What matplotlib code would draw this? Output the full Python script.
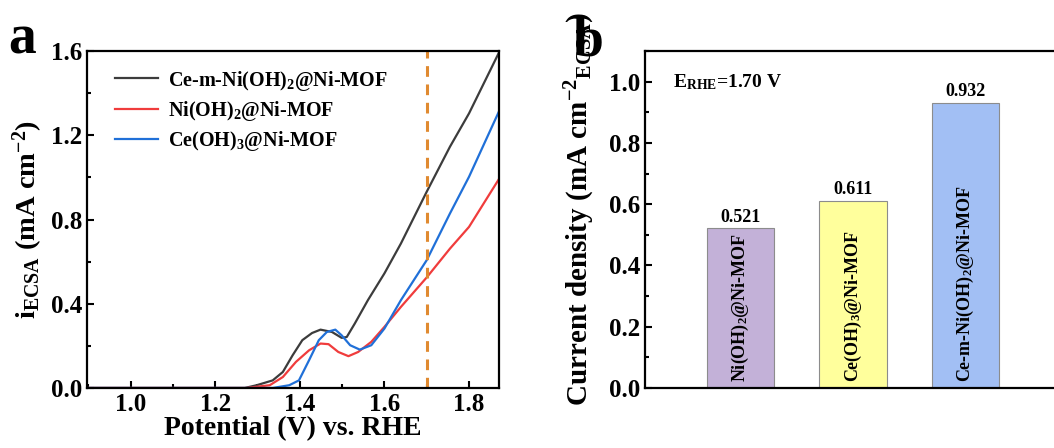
import matplotlib
matplotlib.use("Agg")
import matplotlib.pyplot as plt
from matplotlib.ticker import MultipleLocator

plt.rcParams["font.family"] = "Liberation Serif"
plt.rcParams["font.weight"] = "bold"
plt.rcParams["axes.labelweight"] = "bold"
plt.rcParams["mathtext.fontset"] = "custom"
plt.rcParams["mathtext.rm"] = "Liberation Serif:bold"
plt.rcParams["mathtext.it"] = "Liberation Serif:bold:italic"
plt.rcParams["mathtext.bf"] = "Liberation Serif:bold"

# ---- panel a: LSV curves normalised by ECSA --------------------------------
v_ce_m = [0.90, 1.27, 1.298, 1.336, 1.36, 1.383, 1.406, 1.429, 1.449, 1.476, 1.499,
          1.511, 1.530, 1.561, 1.60, 1.639, 1.70, 1.755, 1.80, 1.87]
i_ce_m = [0.0, 0.0, 0.013, 0.036, 0.076, 0.155, 0.227, 0.261, 0.277, 0.266, 0.238,
          0.242, 0.306, 0.417, 0.544, 0.686, 0.932, 1.146, 1.304, 1.59]

v_ni = [0.90, 1.274, 1.329, 1.36, 1.391, 1.422, 1.449, 1.468, 1.491, 1.515, 1.538,
        1.569, 1.60, 1.639, 1.70, 1.755, 1.80, 1.87]
i_ni = [0.0, 0.0, 0.013, 0.052, 0.124, 0.179, 0.211, 0.208, 0.171, 0.151, 0.171,
        0.219, 0.29, 0.385, 0.525, 0.662, 0.765, 0.99]

v_ce = [0.90, 1.336, 1.375, 1.398, 1.422, 1.445, 1.464, 1.484, 1.499, 1.519, 1.542,
        1.569, 1.60, 1.639, 1.70, 1.755, 1.80, 1.87]
i_ce = [0.0, 0.0, 0.013, 0.036, 0.132, 0.227, 0.266, 0.277, 0.25, 0.203, 0.182,
        0.203, 0.282, 0.417, 0.607, 0.829, 1.003, 1.31]

E_MARK = 1.70

# ---- panel b: current density at 1.70 V -----------------------------------
samples = ["Ni(OH)$_2$@Ni-MOF", "Ce(OH)$_3$@Ni-MOF", "Ce-m-Ni(OH)$_2$@Ni-MOF"]
j_ecsa = [0.521, 0.611, 0.932]
bar_colors = ["#c3b1d8", "#ffff9c", "#a2bff4"]

fig = plt.figure(figsize=(10.54, 4.48), dpi=100)

# ------------------------------------------------------------------ a --
ax = fig.add_axes([0.0825, 0.134, 0.391, 0.752])
ax.plot(v_ce_m, i_ce_m, color="#3c3c3c", lw=1.6, label="Ce-m-Ni(OH)$_2$@Ni-MOF")
ax.plot(v_ni, i_ni, color="#f03c3c", lw=1.6, label="Ni(OH)$_2$@Ni-MOF")
ax.plot(v_ce, i_ce, color="#2070d8", lw=1.6, label="Ce(OH)$_3$@Ni-MOF")
ax.axvline(E_MARK, color="#e08a30", lw=2.2, ls=(0, (3.5, 2.5)))
ax.set_xlim(0.897, 1.871)
ax.set_ylim(0, 1.6)
ax.xaxis.set_major_locator(MultipleLocator(0.2))
ax.xaxis.set_minor_locator(MultipleLocator(0.1))
ax.yaxis.set_major_locator(MultipleLocator(0.4))
ax.yaxis.set_minor_locator(MultipleLocator(0.2))
ax.tick_params(which="both", direction="in", top=False, right=False,
               labelsize=18, width=1.5)
ax.tick_params(which="major", length=5)
ax.tick_params(which="minor", length=3)
ax.set_xlabel("Potential (V) vs. RHE", fontsize=20, labelpad=0)
ax.set_ylabel("i$_{\\mathrm{ECSA}}$ (mA cm$^{-2}$)", fontsize=20.5, labelpad=4)
for s in ax.spines.values():
    s.set_linewidth(1.6)
ax.legend(loc="upper left", frameon=False, fontsize=14.5, handlelength=2.1,
          handletextpad=0.5, borderaxespad=0.3, labelspacing=0.3,
          bbox_to_anchor=(0.035, 0.99))
fig.text(0.008, 0.88, "a", fontsize=40, fontweight="bold")

# ------------------------------------------------------------------ b --
bx = fig.add_axes([0.612, 0.134, 0.411, 0.752])
pos = [1, 2, 3]
bars = bx.bar(pos, j_ecsa, width=0.6, color=bar_colors, edgecolor="#8c8c8c",
              linewidth=0.8)
for p, v, name in zip(pos, j_ecsa, samples):
    bx.text(p, v + 0.008, f"{v:.3f}", ha="center", va="bottom", fontsize=13)
    bx.text(p, 0.018, name, rotation=90, ha="center", va="bottom", fontsize=13)
bx.text(0.4, 1.0, "E$_{\\mathrm{RHE}}$=1.70 V", fontsize=14, va="center")
bx.set_xlim(0.15, 4.0)
bx.set_ylim(0, 1.1)
bx.set_xticks([])
bx.yaxis.set_major_locator(MultipleLocator(0.2))
bx.yaxis.set_minor_locator(MultipleLocator(0.1))
bx.yaxis.set_major_formatter(plt.FormatStrFormatter("%.1f"))
bx.tick_params(which="both", direction="in", right=False, labelsize=18, width=1.5)
bx.tick_params(which="major", length=5)
bx.tick_params(which="minor", length=3)
bx.set_ylabel("Current density (mA cm$^{-2}$$_{\\mathrm{ECSA}}$)", fontsize=21)
bx.yaxis.set_label_coords(-0.11, 0.53)
for s in bx.spines.values():
    s.set_linewidth(1.6)
fig.text(0.543, 0.875, "b", fontsize=40, fontweight="bold")

fig.savefig("out.png", dpi=100)
